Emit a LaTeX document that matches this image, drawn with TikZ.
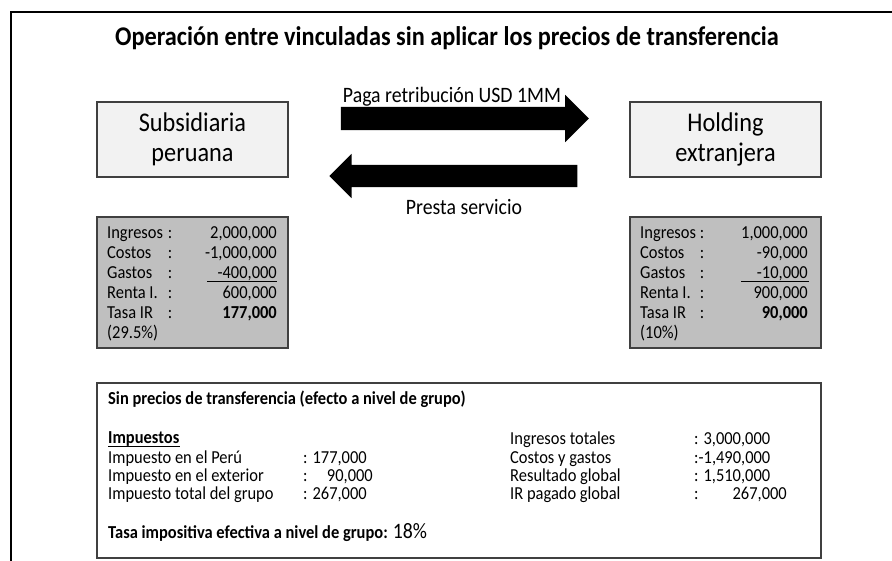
\documentclass[tikz,border=0pt]{standalone}
\usepackage{fontspec}
\setmainfont{Carlito}[FakeStretch=0.9]
\usetikzlibrary{shapes.arrows}
\definecolor{boxlight}{HTML}{F2F2F2}
\definecolor{boxgray}{HTML}{BFBFBF}
\definecolor{edgecol}{HTML}{404040}
\begin{document}
\begin{tikzpicture}[x=1pt,y=-1pt,
  entity/.style={draw=edgecol, line width=1.2pt, fill=boxlight, minimum width=191pt, minimum height=75pt, inner sep=0pt, align=center, font=\fontsize{27}{30}\selectfont},
  databox/.style={draw=edgecol, line width=1.2pt, fill=boxgray, minimum width=191pt, minimum height=131pt, inner sep=0pt},
  sumframe/.style={draw=edgecol, line width=1.2pt, fill=white, minimum width=724pt, minimum height=175pt, inner sep=0pt},
  txt/.style={inner sep=0pt, text height=14pt, text depth=3pt, font=\fontsize{18.3}{20}\selectfont},
  flowarrow/.style={single arrow, fill=black, draw=none, inner xsep=0pt, minimum height=248pt},
  flowlabel/.style={inner sep=0pt, font=\fontsize{22}{25}\selectfont}
]
\useasboundingbox (0,0) rectangle (892,561);
% outer frame (left and top sides)
\draw[line width=2pt, black] (11,561) -- (11,12) -- (892,12);
% title
\node[inner sep=0pt, font=\fontsize{27}{30}\bfseries] (title) at (447,38) {Operación entre vinculadas sin aplicar los precios de transferencia};
% entities
\node[entity] (sub) at (192.5,139.5) {Subsidiaria\\peruana};
\node[entity] (hold) at (725.5,139.5) {Holding\\extranjera};
% flows
\node[flowarrow, inner ysep=11.5pt, single arrow head extend=12pt] (pay) at (459,118.5) {};
\node[flowarrow, inner ysep=11pt, single arrow head extend=11pt, shape border rotate=180] (serve) at (459,176) {};
\node[flowlabel] (paylbl) at (452,97) {Paga retribución USD 1MM};
\node[flowlabel] (servelbl) at (464,207) {Presta servicio};
% left data box
\node[databox] (subdata) at (192.5,282.5) {};
\node[txt, anchor=west] (l1) at (107,233) {Ingresos};
\node[txt, anchor=west] (l2) at (107,253) {Costos};
\node[txt, anchor=west] (l3) at (107,273) {Gastos};
\node[txt, anchor=west] (l4) at (107,293) {Renta I.};
\node[txt, anchor=west] (l5) at (107,313) {Tasa IR};
\node[txt, anchor=west] (l6) at (107,333) {(29.5\%)};
\foreach \yy/\nm in {233/c1,253/c2,273/c3,293/c4,313/c5}
  \node[txt] (\nm) at (170,\yy) {:};
\node[txt, anchor=east] (v1) at (277,233) {2,000,000};
\node[txt, anchor=east] (v2) at (277,253) {-1,000,000};
\node[txt, anchor=east] (v3) at (277,273) {-400,000};
\node[txt, anchor=east] (v4) at (277,293) {600,000};
\node[txt, anchor=east] (v5) at (277,313) {\textbf{177,000}};
\draw[line width=0.8pt] (207,281.5) -- (277,281.5);
% right data box
\node[databox] (holddata) at (725.5,282.5) {};
\node[txt, anchor=west] (r1) at (640,233) {Ingresos};
\node[txt, anchor=west] (r2) at (640,253) {Costos};
\node[txt, anchor=west] (r3) at (640,273) {Gastos};
\node[txt, anchor=west] (r4) at (640,293) {Renta I.};
\node[txt, anchor=west] (r5) at (640,313) {Tasa IR};
\node[txt, anchor=west] (r6) at (640,333) {(10\%)};
\foreach \yy/\nm in {233/d1,253/d2,273/d3,293/d4,313/d5}
  \node[txt] (\nm) at (702,\yy) {:};
\node[txt, anchor=east] (w1) at (808,233) {1,000,000};
\node[txt, anchor=east] (w2) at (808,253) {-90,000};
\node[txt, anchor=east] (w3) at (808,273) {-10,000};
\node[txt, anchor=east] (w4) at (808,293) {900,000};
\node[txt, anchor=east] (w5) at (808,313) {\textbf{90,000}};
\draw[line width=0.8pt] (741,281.5) -- (809,281.5);
% summary box
\node[sumframe] (summary) at (459,470.5) {};
\node[txt, anchor=west, font=\fontsize{18.3}{20}\bfseries] (sh) at (108,399) {Sin precios de transferencia (efecto a nivel de grupo)};
\node[txt, anchor=west, font=\fontsize{18.3}{20}\bfseries] (imp) at (108,438) {Impuestos};
\draw[line width=0.9pt] ([yshift=-3pt]imp.base west) -- ([yshift=-3pt]imp.base east);
\node[txt, anchor=west] (i1) at (108,458) {Impuesto en el Perú};
\node[txt, anchor=west] (i2) at (108,476) {Impuesto en el exterior};
\node[txt, anchor=west] (i3) at (108,494) {Impuesto total del grupo};
\node[txt, anchor=west] (j1) at (303,458) {: 177,000};
\node[txt, anchor=west] (j2) at (303,476) {:};
\node[txt, anchor=east] (j2v) at (373,476) {90,000};
\node[txt, anchor=west] (j3) at (303,494) {: 267,000};
\node[txt, anchor=west] (g1) at (510,439) {Ingresos totales};
\node[txt, anchor=west] (g2) at (510,458) {Costos y gastos};
\node[txt, anchor=west] (g3) at (510,476) {Resultado global};
\node[txt, anchor=west] (g4) at (510,494) {IR pagado global};
\node[txt, anchor=west] (h1) at (694,439) {: 3,000,000};
\node[txt, anchor=west] (h2) at (694,458) {:-1,490,000};
\node[txt, anchor=west] (h3) at (694,476) {: 1,510,000};
\node[txt, anchor=west] (h4) at (694,494) {:};
\node[txt, anchor=east] (h4v) at (787,494) {267,000};
\node[inner sep=0pt, anchor=base west] (tasa) at (108,538) {\fontsize{18.3}{20}\bfseries Tasa impositiva efectiva a nivel de grupo: \fontsize{22}{25}\mdseries 18\%};
\end{tikzpicture}
\end{document}
